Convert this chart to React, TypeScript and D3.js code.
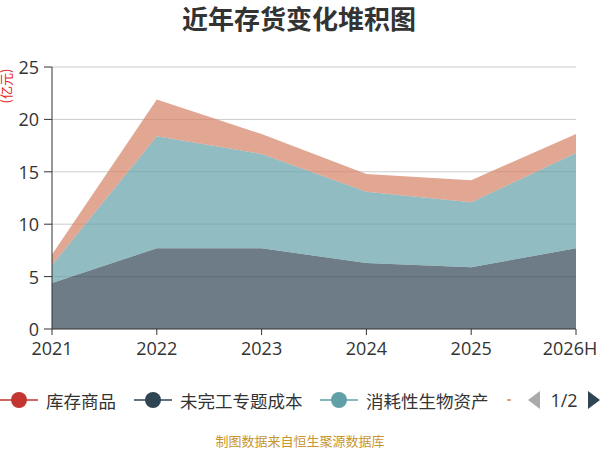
import * as d3 from "d3";

const WIDTH = 600;
const HEIGHT = 450;
const MARGIN = {top: 67, right: 24, bottom: 121, left: 52};

const years = ["2021", "2022", "2023", "2024", "2025", "2026H"];
const seriesNames = ["库存商品", "未完工专题成本", "消耗性生物资产", "原材料"];
const seriesColors = ["#c23531", "#2f4554", "#61a0a8", "#d48265"];

// 亿元
const kucunShangpin = [0, 0, 0, 0, 0, 0];
const weiwangong = [4.4, 7.7, 7.7, 6.3, 5.9, 7.7];
const xiaohaoxing = [1.7, 10.7, 9.0, 6.8, 6.2, 9.1];
const yuancailiao = [1.0, 3.5, 1.9, 1.7, 2.1, 1.8];

const yTicks = [0, 5, 10, 15, 20, 25];

const rows = years.map((year, i) => ({
    year,
    [seriesNames[0]]: kucunShangpin[i],
    [seriesNames[1]]: weiwangong[i],
    [seriesNames[2]]: xiaohaoxing[i],
    [seriesNames[3]]: yuancailiao[i],
}));

export default function App() {
    const boundsWidth = WIDTH - MARGIN.left - MARGIN.right;
    const boundsHeight = HEIGHT - MARGIN.top - MARGIN.bottom;

    const xScale = d3.scalePoint().domain(years).range([0, boundsWidth]);
    const yScale = d3.scaleLinear().domain([0, 25]).range([boundsHeight, 0]);

    const stacked = d3.stack<any>().keys(seriesNames)(rows);

    const area = d3
        .area<any>()
        .x((d) => xScale(d.data.year) ?? 0)
        .y0((d) => yScale(d[0]))
        .y1((d) => yScale(d[1]));

    // legend is a scroll legend, the 4th item is cut off
    const legendX = [0, 134, 320, 507];

    return (
        <svg
            width={WIDTH}
            height={HEIGHT}
            style={{position: "absolute", left: 0, top: 0}}
            fontFamily="'Noto Sans CJK SC', 'Open Sans', sans-serif"
        >
            <defs>
                <clipPath id="legend-clip">
                    <rect x={0} y={380} width={511} height={40} />
                </clipPath>
            </defs>
            <text x={299} y={29} textAnchor="middle" fontSize={26} fontWeight="bold" fill="#333">
                近年存货变化堆积图
            </text>
            <text
                transform="translate(7,86) rotate(-90)"
                textAnchor="middle"
                dominantBaseline="middle"
                fontSize={13}
                fill="#e6271c"
            >
                (亿元)
            </text>
            <g transform={`translate(${MARGIN.left},${MARGIN.top})`}>
                {yTicks.map((t) => (
                    <g key={t}>
                        {t > 0 && (
                            <line x1={0} x2={boundsWidth} y1={yScale(t)} y2={yScale(t)} stroke="#ccc" />
                        )}
                        <line x1={-8} x2={0} y1={yScale(t)} y2={yScale(t)} stroke="#333" />
                        <text
                            x={-13}
                            y={yScale(t)}
                            textAnchor="end"
                            dominantBaseline="central"
                            fontSize={18}
                            fill="#333"
                            fontFamily="'Open Sans', sans-serif"
                        >
                            {t}
                        </text>
                    </g>
                ))}
                {stacked.map((s, i) => (
                    <path key={s.key} d={area(s) ?? ""} fill={seriesColors[i]} fillOpacity={0.7} />
                ))}
                <line x1={0} x2={0} y1={0} y2={boundsHeight} stroke="#333" />
                <line x1={0} x2={boundsWidth} y1={boundsHeight} y2={boundsHeight} stroke="#333" />
                {years.map((y, i) => (
                    <g key={y}>
                        <line
                            x1={xScale(y)}
                            x2={xScale(y)}
                            y1={boundsHeight}
                            y2={boundsHeight + 6}
                            stroke="#333"
                        />
                        <text
                            x={(xScale(y) ?? 0) - (i === years.length - 1 ? 6 : 0)}
                            y={boundsHeight + 26}
                            textAnchor="middle"
                            fontSize={18}
                            fill="#333"
                            fontFamily="'Open Sans', sans-serif"
                        >
                            {y}
                        </text>
                    </g>
                ))}
            </g>
            <g clipPath="url(#legend-clip)">
                {seriesNames.map((name, i) => (
                    <g key={name} transform={`translate(${legendX[i]},400)`}>
                        <line x1={0} x2={38} y1={0} y2={0} stroke={seriesColors[i]} strokeWidth={1.5} />
                        <circle cx={19} cy={0} r={8} fill={seriesColors[i]} />
                        <text x={46} y={0} dominantBaseline="central" fontSize={17.5} fill="#333">
                            {name}
                        </text>
                    </g>
                ))}
            </g>
            <path d="M528,400 L540,391 L540,409 Z" fill="#aaa" />
            <text x={564} y={400} textAnchor="middle" dominantBaseline="central" fontSize={18} fill="#333"
                  fontFamily="'Open Sans', sans-serif">
                1/2
            </text>
            <path d="M600,400 L588,391 L588,409 Z" fill="#2f4554" />
            <text x={300} y={446} textAnchor="middle" fontSize={13} fill="#c8962e">
                制图数据来自恒生聚源数据库
            </text>
        </svg>
    );
}
